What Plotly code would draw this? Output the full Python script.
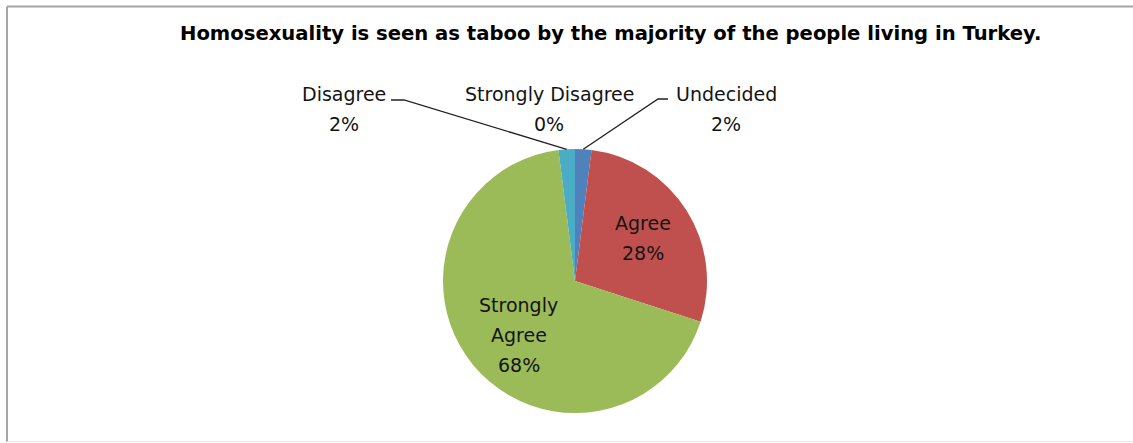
import math
import plotly.graph_objects as go

# Survey responses, clockwise from 12 o'clock
labels = ["Undecided", "Agree", "Strongly Agree", "Disagree", "Strongly Disagree"]
values = [2, 28, 68, 2, 0]
colors = ["#4F81BD", "#C0504D", "#9BBB59", "#4BACC6", "#8064A2"]
title = "Homosexuality is seen as taboo by the majority of the people living in Turkey."

W, H = 1133, 443
CX, CY, R = 575, 281, 132          # pie centre and radius in pixels
FONT = "DejaVu Sans"


def px(x):
    return x / W


def py(y):
    return 1 - y / H


def mid_angle(i):
    total = sum(values)
    start = sum(values[:i]) / total * 360
    return math.radians(start + values[i] / total * 180)


def slice_point(i, frac):
    a = mid_angle(i)
    return CX + frac * R * math.sin(a), CY - frac * R * math.cos(a)


fig = go.Figure(go.Pie(
    labels=labels,
    values=values,
    marker=dict(colors=colors, line=dict(width=0)),
    sort=False,
    direction="clockwise",
    rotation=0,
    textinfo="none",
    hoverinfo="label+percent",
    showlegend=False,
    domain=dict(x=[px(CX - R), px(CX + R)], y=[py(CY + R), py(CY - R)]),
))

annotations = []
shapes = []


def add_text(lines, x, y, gap=30):
    for k, line in enumerate(lines):
        annotations.append(dict(
            x=px(x), y=py(y + k * gap), xref="paper", yref="paper",
            text=line, showarrow=False, xanchor="center", yanchor="middle",
            font=dict(family=FONT, size=19, color="#141414"),
        ))


pct = {lab: f"{v}%" for lab, v in zip(labels, values)}

# labels outside the pie, with leader lines to the thin slices
add_text(["Disagree", pct["Disagree"]], 344, 94)
add_text(["Strongly Disagree", pct["Strongly Disagree"]], 549, 94)
add_text(["Undecided", pct["Undecided"]], 726, 94)

tx, ty = slice_point(labels.index("Disagree"), 1.0)
shapes.append(dict(type="path", xref="paper", yref="paper",
                   path=f"M {px(391)},{py(100)} L {px(404)},{py(100)} L {px(tx)},{py(ty)}",
                   line=dict(color="#222222", width=1.3)))
tx, ty = slice_point(labels.index("Undecided"), 1.0)
shapes.append(dict(type="path", xref="paper", yref="paper",
                   path=f"M {px(668)},{py(99)} L {px(658)},{py(99)} L {px(tx)},{py(ty)}",
                   line=dict(color="#222222", width=1.3)))

# labels inside the two large slices
ax, ay = slice_point(labels.index("Agree"), 0.61)
add_text(["Agree", pct["Agree"]], ax, ay - 15)
sx, sy = slice_point(labels.index("Strongly Agree"), 0.6)
add_text(["Strongly", "Agree", pct["Strongly Agree"]], sx + 5, sy - 26)

# chart title
annotations.append(dict(
    x=px(610), y=py(34), xref="paper", yref="paper", text=f"<b>{title}</b>",
    showarrow=False, xanchor="center", yanchor="middle",
    font=dict(family=FONT, size=19.6, color="#000000"),
))

# chart-area frame
shapes += [
    dict(type="line", xref="paper", yref="paper", x0=px(7), x1=1, y0=py(6.5), y1=py(6.5),
         line=dict(color="#A6A6A6", width=2)),
    dict(type="line", xref="paper", yref="paper", x0=px(7), x1=px(7), y0=py(6.5), y1=py(442),
         line=dict(color="#A6A6A6", width=2)),
    dict(type="line", xref="paper", yref="paper", x0=px(7), x1=1, y0=py(441.5), y1=py(441.5),
         line=dict(color="#E6E6E6", width=1)),
]

fig.update_layout(
    width=W, height=H,
    margin=dict(l=0, r=0, t=0, b=0),
    paper_bgcolor="white", plot_bgcolor="white",
    annotations=annotations, shapes=shapes,
)

fig.write_html("out.html")
